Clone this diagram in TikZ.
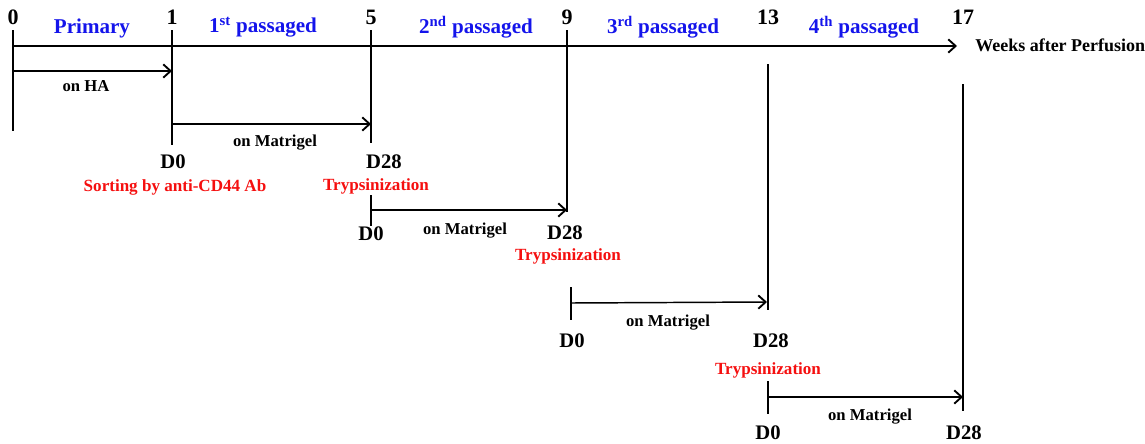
\documentclass[tikz,border=0pt]{standalone}
\usepackage{fontspec}
\setmainfont{Liberation Serif}
\usetikzlibrary{arrows.meta}
\definecolor{lblblue}{RGB}{20,20,235}
\definecolor{lblred}{RGB}{245,15,15}
\tikzset{
  ln/.style={line width=1.1pt,black},
  arr/.style={ln,-{Straight Barb[length=5.5pt,width=10pt,line width=1.4pt]}},
  tick/.style={font=\fontsize{16.5}{17}\selectfont\bfseries,inner sep=0pt},
  phase/.style={font=\fontsize{15.8}{16}\selectfont\bfseries,text=lblblue,inner sep=0pt},
  day/.style={font=\fontsize{15.5}{16}\selectfont\bfseries,inner sep=0pt},
  sub/.style={font=\fontsize{12.5}{13}\selectfont\bfseries,inner sep=0pt},
  proc/.style={font=\fontsize{12.8}{13}\selectfont\bfseries,text=lblred,inner sep=0pt},
}
\begin{document}
\begin{tikzpicture}[x=0.75pt,y=-0.75pt]
\useasboundingbox (0,0) rectangle (1145,443);
% tick labels
\node[tick] (t0) at (13,17) {0};
\node[tick] (t1) at (172,17) {1};
\node[tick] (t5) at (371,17) {5};
\node[tick] (t9) at (567,17) {9};
\node[tick] (t13) at (768,17) {13};
\node[tick] (t17) at (963,17) {17};
% phase labels
\node[phase] (p0) at (92,28) {Primary};
\node[phase] (p1) at (263,27) {1\textsuperscript{st} passaged};
\node[phase] (p2) at (476,27) {2\textsuperscript{nd} passaged};
\node[phase] (p3) at (663,27) {3\textsuperscript{rd} passaged};
\node[phase] (p4) at (864,27) {4\textsuperscript{th} passaged};
% axis
\coordinate (a0) at (13,46);
\coordinate (a1) at (957,46);
\draw[arr] (a0) -- (a1);
\node[font=\fontsize{13.5}{14}\selectfont\bfseries,inner sep=0pt,anchor=west] (wk) at (975,45) {Weeks after Perfusion};
% vertical lines
\coordinate (v0a) at (13,30); \coordinate (v0b) at (13,131);
\coordinate (v1a) at (172,30); \coordinate (v1b) at (172,145);
\coordinate (v5a) at (371,30); \coordinate (v5b) at (371,143);
\coordinate (v9a) at (567,30); \coordinate (v9b) at (567,212);
\coordinate (v13a) at (768,64); \coordinate (v13b) at (768,310);
\coordinate (v17a) at (963,84); \coordinate (v17b) at (963,411);
\coordinate (w2a) at (371,195); \coordinate (w2b) at (371,226);
\coordinate (w3a) at (571,287); \coordinate (w3b) at (571,320);
\coordinate (w4a) at (768,381); \coordinate (w4b) at (768,414);
\foreach \a/\b in {v0a/v0b,v1a/v1b,v5a/v5b,v9a/v9b,v13a/v13b,v17a/v17b,w2a/w2b,w3a/w3b,w4a/w4b}
  \draw[ln] (\a) -- (\b);
% culture arrows
\coordinate (ha0) at (13,71); \coordinate (ha1) at (172,71);
\coordinate (m1a) at (172,124); \coordinate (m1b) at (371,124);
\coordinate (m2a) at (371,210); \coordinate (m2b) at (567,210);
\coordinate (m3a) at (571,303); \coordinate (m3b) at (767,302);
\coordinate (m4a) at (768,397); \coordinate (m4b) at (963,397);
\draw[arr] (ha0) -- (ha1);
\draw[arr] (m1a) -- (m1b);
\draw[arr] (m2a) -- (m2b);
\draw[arr] (m3a) -- (m3b);
\draw[arr] (m4a) -- (m4b);
% sub labels
\node[sub] (lha) at (86,86) {on HA};
\node[sub] (lm1) at (275,143) {on Matrigel};
\node[sub] (lm2) at (465,231) {on Matrigel};
\node[sub] (lm3) at (668,323) {on Matrigel};
\node[sub] (lm4) at (870,417) {on Matrigel};
% day labels
\node[day] (d0a) at (173,162) {D0};
\node[day] (d28a) at (384,162) {D28};
\node[day] (d0b) at (371,234) {D0};
\node[day] (d28b) at (565,233) {D28};
\node[day] (d0c) at (572,341) {D0};
\node[day] (d28c) at (771,341) {D28};
\node[day] (d0d) at (768,433) {D0};
\node[day] (d28d) at (964,433) {D28};
% process labels
\node[proc] (sort) at (175,187) {Sorting by anti-CD44 Ab};
\node[proc] (tr1) at (376,186) {Trypsinization};
\node[proc] (tr2) at (568,256) {Trypsinization};
\node[proc] (tr3) at (768,370) {Trypsinization};
\end{tikzpicture}
\end{document}
